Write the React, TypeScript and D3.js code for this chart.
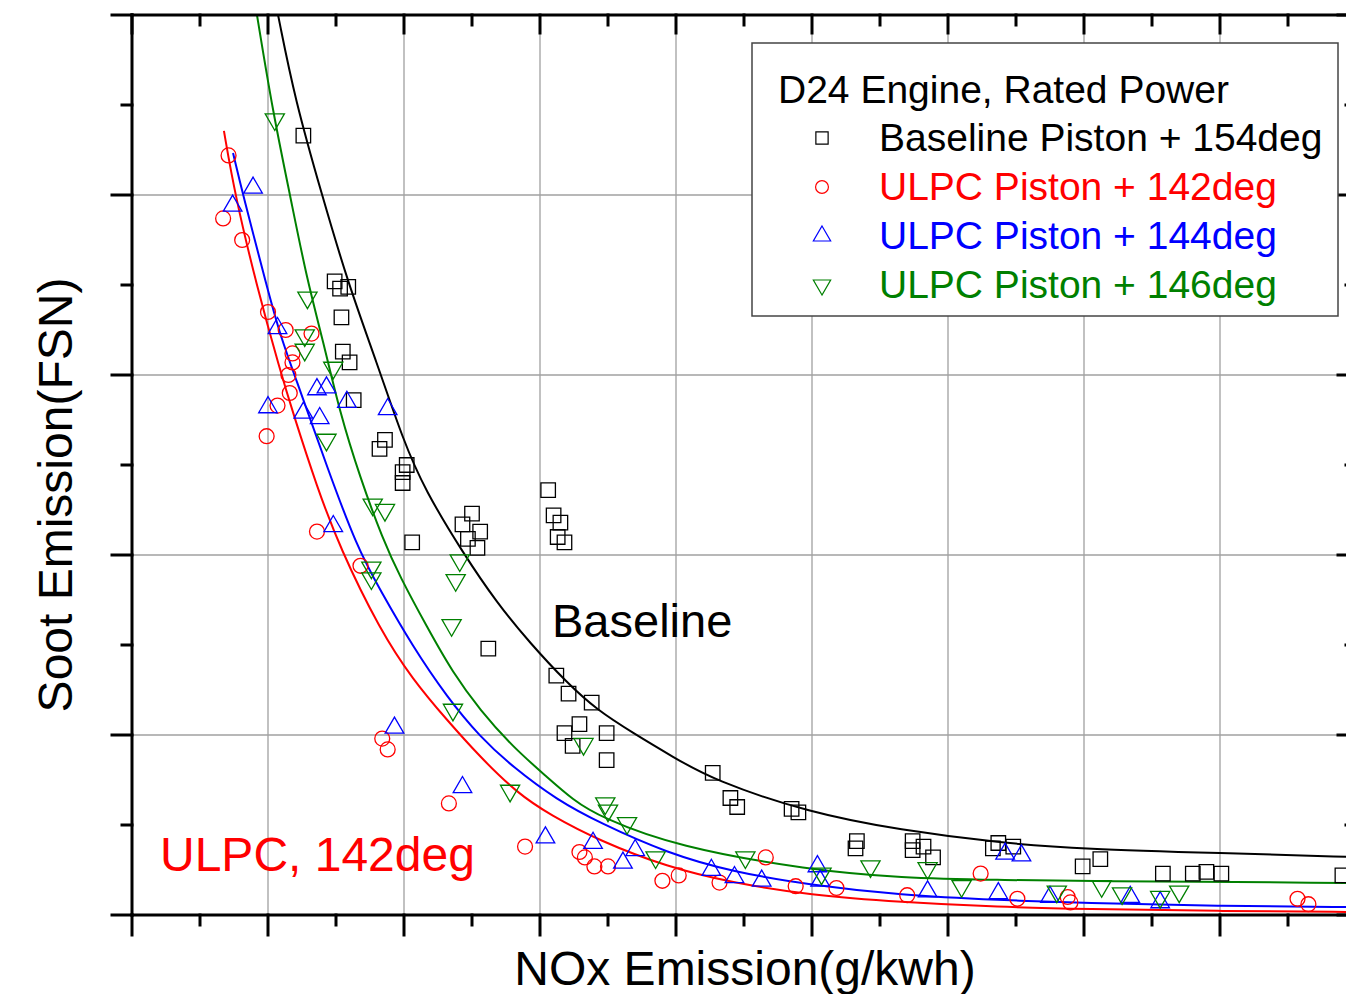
import React from 'react'
import * as d3 from 'd3'

const width = 1346
const height = 994
const plot = { left: 132, top: 15, right: 1356, bottom: 915 }

// NOx (g/kWh) vs soot (FSN)
const baselinePts: [number, number][] = [
  [1.26, 4.33], [1.49, 3.52], [1.53, 3.48], [1.59, 3.49], [1.54, 3.32], [1.55, 3.13],
  [1.6, 3.07], [1.63, 2.86], [1.86, 2.64], [1.82, 2.59], [2.02, 2.5], [1.99, 2.46],
  [1.99, 2.4], [2.06, 2.07], [2.5, 2.23], [2.43, 2.17], [2.56, 2.13], [2.47, 2.09],
  [2.54, 2.04], [3.06, 2.36], [3.1, 2.22], [3.15, 2.18], [3.13, 2.1], [3.18, 2.07],
  [2.62, 1.48], [3.12, 1.33], [3.21, 1.23], [3.38, 1.18], [3.29, 1.06], [3.18, 1.01],
  [3.24, 0.94], [3.49, 1.01], [3.49, 0.86], [4.27, 0.79], [4.4, 0.65], [4.45, 0.6],
  [4.85, 0.59], [4.9, 0.57], [5.33, 0.41], [5.32, 0.37], [5.74, 0.41], [5.74, 0.36],
  [5.82, 0.38], [5.89, 0.32], [6.37, 0.4], [6.48, 0.38], [6.33, 0.37], [6.99, 0.27],
  [7.12, 0.31], [7.58, 0.23], [7.8, 0.23], [7.9, 0.24], [8.01, 0.23], [8.9, 0.22],
]
const ulpc142Pts: [number, number][] = [
  [0.71, 4.22], [0.67, 3.87], [0.81, 3.75], [1.0, 3.35], [1.13, 3.25], [1.32, 3.23],
  [1.18, 3.12], [1.18, 3.07], [1.15, 3.0], [1.16, 2.9], [1.07, 2.83], [0.99, 2.66],
  [1.36, 2.13], [1.68, 1.94], [1.84, 0.98], [1.88, 0.92], [2.33, 0.62], [2.89, 0.38],
  [3.29, 0.35], [3.33, 0.32], [3.4, 0.27], [3.5, 0.27], [3.9, 0.19], [4.02, 0.22],
  [4.32, 0.18], [4.66, 0.32], [4.88, 0.16], [5.18, 0.15], [5.7, 0.11], [6.24, 0.23],
  [6.51, 0.09], [6.88, 0.1], [6.9, 0.07], [8.57, 0.09], [8.65, 0.06],
]
const ulpc144Pts: [number, number][] = [
  [0.89, 4.04], [0.74, 3.94], [1.07, 3.26], [1.0, 2.82], [1.26, 2.79], [1.38, 2.76],
  [1.36, 2.92], [1.43, 2.93], [1.58, 2.85], [1.88, 2.81], [1.48, 2.16], [1.93, 1.04],
  [2.43, 0.71], [3.04, 0.43], [3.39, 0.4], [3.61, 0.29], [3.7, 0.36], [4.26, 0.25],
  [4.43, 0.21], [4.63, 0.19], [5.04, 0.27], [5.06, 0.19], [5.85, 0.13], [6.37, 0.12],
  [6.42, 0.34], [6.54, 0.33], [6.75, 0.1], [7.34, 0.1], [7.56, 0.07],
]
const ulpc146Pts: [number, number][] = [
  [1.05, 4.42], [1.29, 3.43], [1.27, 3.22], [1.27, 3.14], [1.48, 3.04], [1.43, 2.64],
  [1.77, 2.28], [1.86, 2.25], [1.76, 1.93], [1.76, 1.87], [2.41, 1.97], [2.38, 1.86],
  [2.35, 1.61], [2.36, 1.14], [2.78, 0.69], [3.32, 0.95], [3.48, 0.62], [3.5, 0.58],
  [3.64, 0.51], [3.85, 0.32], [4.51, 0.32], [5.07, 0.23], [5.43, 0.27], [5.85, 0.26],
  [6.1, 0.16], [6.8, 0.13], [7.13, 0.16], [7.28, 0.12], [7.56, 0.1], [7.7, 0.13],
]

// fitted trend curves
const baselineFit: [number, number][] = [
  [1.074, 5.0], [1.199, 4.528], [1.397, 4.0], [1.588, 3.511], [1.801, 3.067], [1.993, 2.639],
  [2.154, 2.361], [2.434, 2.011], [2.684, 1.733], [2.926, 1.511], [3.199, 1.289], [3.419, 1.139],
  [3.684, 1.011], [3.978, 0.878], [4.272, 0.75], [4.985, 0.567], [5.647, 0.472], [6.382, 0.4],
  [6.993, 0.367], [8.0, 0.344], [9.0, 0.322],
]
const ulpc142Fit: [number, number][] = [
  [0.676, 4.356], [0.757, 4.0], [0.919, 3.489], [1.088, 3.028], [1.184, 2.789], [1.36, 2.378],
  [1.529, 2.039], [1.824, 1.583], [2.066, 1.306], [2.316, 1.083], [2.559, 0.878], [2.831, 0.678],
  [3.074, 0.556], [3.441, 0.411], [3.934, 0.267], [4.419, 0.178], [4.985, 0.111], [5.647, 0.072],
  [6.382, 0.044], [6.993, 0.033], [7.978, 0.022], [9.0, 0.017],
]
const ulpc144Fit: [number, number][] = [
  [0.743, 4.233], [0.816, 4.0], [0.993, 3.489], [1.088, 3.222], [1.235, 2.917], [1.434, 2.489],
  [1.654, 2.044], [1.824, 1.806], [2.066, 1.489], [2.316, 1.211], [2.559, 0.989], [2.801, 0.822],
  [3.125, 0.639], [3.441, 0.511], [3.934, 0.344], [4.419, 0.239], [4.985, 0.167], [5.647, 0.111],
  [6.382, 0.083], [6.993, 0.067], [7.978, 0.05], [9.0, 0.044],
]
const ulpc146Fit: [number, number][] = [
  [0.919, 5.0], [1.037, 4.456], [1.162, 4.0], [1.287, 3.528], [1.404, 3.194], [1.529, 2.789],
  [1.676, 2.433], [1.846, 2.083], [1.971, 1.878], [2.169, 1.6], [2.36, 1.344], [2.559, 1.139],
  [2.801, 0.933], [3.051, 0.767], [3.243, 0.639], [3.441, 0.544], [4.007, 0.378], [4.985, 0.25],
  [5.647, 0.206], [6.382, 0.194], [6.993, 0.189], [9.0, 0.178],
]

const legendTitle = 'D24 Engine, Rated Power'
const seriesNames = [
  'Baseline Piston + 154deg',
  'ULPC Piston + 142deg',
  'ULPC Piston + 144deg',
  'ULPC Piston + 146deg',
]
const seriesColors = ['#000000', '#ff0000', '#0000ff', '#008000']

const xMajor = d3.range(0, 10)
const xMinor = d3.range(0.5, 9, 1)
const yMajor = d3.range(0, 6)
const yMinor = d3.range(0.5, 5, 1)

const font = '"Liberation Sans", Arial, sans-serif'

const xScale = d3.scaleLinear().domain([0, 9]).range([plot.left, plot.right])
const yScale = d3.scaleLinear().domain([0, 5]).range([plot.bottom, plot.top])

const line = d3
  .line<[number, number]>()
  .x((d) => xScale(d[0]))
  .y((d) => yScale(d[1]))
  .curve(d3.curveBasis)

const markerPaths = [
  { path: d3.symbol().type(d3.symbolSquare).size(210)()!, rot: 0 },
  { path: d3.symbol().type(d3.symbolCircle).size(175)()!, rot: 0 },
  { path: d3.symbol().type(d3.symbolTriangle).size(150)()!, rot: 0 },
  { path: d3.symbol().type(d3.symbolTriangle).size(160)()!, rot: 180 },
]
const legendMarkers = [
  { path: d3.symbol().type(d3.symbolSquare).size(150)()!, rot: 0 },
  { path: d3.symbol().type(d3.symbolCircle).size(130)()!, rot: 0 },
  { path: d3.symbol().type(d3.symbolTriangle).size(130)()!, rot: 0 },
  { path: d3.symbol().type(d3.symbolTriangle).size(130)()!, rot: 180 },
]

const allPoints = [baselinePts, ulpc142Pts, ulpc144Pts, ulpc146Pts]
const allFits = [baselineFit, ulpc142Fit, ulpc144Fit, ulpc146Fit]

function App() {
  const grid = (
    <g stroke="#a0a0a0" strokeWidth={1.3}>
      {xMajor.slice(1, -1).map((v) => (
        <line key={'gx' + v} x1={xScale(v)} x2={xScale(v)} y1={plot.top} y2={plot.bottom} />
      ))}
      {yMajor.slice(1, -1).map((v) => (
        <line key={'gy' + v} y1={yScale(v)} y2={yScale(v)} x1={plot.left} x2={plot.right} />
      ))}
    </g>
  )

  const curves = allFits.map((fit, i) => (
    <path key={'fit' + i} d={line(fit) || ''} fill="none" stroke={seriesColors[i]} strokeWidth={2} />
  ))

  const markers = allPoints.map((pts, i) => (
    <g key={'pts' + i} fill="none" stroke={seriesColors[i]} strokeWidth={1.3}>
      {pts.map((d, j) => (
        <path
          key={j}
          d={markerPaths[i].path}
          transform={`translate(${xScale(d[0])},${yScale(d[1])}) rotate(${markerPaths[i].rot})`}
        />
      ))}
    </g>
  ))

  const axes = (
    <g stroke="#000" strokeWidth={3} strokeLinecap="square">
      <line x1={plot.left} x2={plot.right} y1={plot.bottom} y2={plot.bottom} />
      <line x1={plot.left} x2={plot.right} y1={plot.top} y2={plot.top} />
      <line x1={plot.left} x2={plot.left} y1={plot.top} y2={plot.bottom} />
      <line x1={plot.right} x2={plot.right} y1={plot.top} y2={plot.bottom} />
      {xMajor.map((v) => (
        <g key={'xt' + v}>
          <line x1={xScale(v)} x2={xScale(v)} y1={plot.bottom} y2={plot.bottom + 20} />
          <line x1={xScale(v)} x2={xScale(v)} y1={plot.top} y2={plot.top + 18} />
        </g>
      ))}
      {xMinor.map((v) => (
        <g key={'xm' + v}>
          <line x1={xScale(v)} x2={xScale(v)} y1={plot.bottom} y2={plot.bottom + 10} />
          <line x1={xScale(v)} x2={xScale(v)} y1={plot.top} y2={plot.top + 10} />
        </g>
      ))}
      {yMajor.map((v) => (
        <g key={'yt' + v}>
          <line y1={yScale(v)} y2={yScale(v)} x1={plot.left - 20} x2={plot.left} />
          <line y1={yScale(v)} y2={yScale(v)} x1={plot.right - 18} x2={plot.right} />
        </g>
      ))}
      {yMinor.map((v) => (
        <g key={'ym' + v}>
          <line y1={yScale(v)} y2={yScale(v)} x1={plot.left - 10} x2={plot.left} />
          <line y1={yScale(v)} y2={yScale(v)} x1={plot.right - 10} x2={plot.right} />
        </g>
      ))}
    </g>
  )

  const legend = (
    <g fontFamily={font} fontSize={39}>
      <rect x={752} y={43} width={586} height={273} fill="#fff" stroke="#444" strokeWidth={1.5} />
      <text x={778} y={103} fill="#000">{legendTitle}</text>
      {seriesNames.map((name, i) => (
        <g key={name}>
          <path
            d={legendMarkers[i].path}
            transform={`translate(822,${138 + i * 49}) rotate(${legendMarkers[i].rot})`}
            fill="none"
            stroke={seriesColors[i]}
            strokeWidth={1.2}
          />
          <text x={879} y={151 + i * 49} fill={seriesColors[i]}>{name}</text>
        </g>
      ))}
    </g>
  )

  return (
    <svg
      width={width}
      height={height}
      style={{ position: 'absolute', left: 0, top: 0, background: '#fff' }}
    >
      <defs>
        <clipPath id="plotClip">
          <rect x={plot.left} y={plot.top} width={plot.right - plot.left} height={plot.bottom - plot.top} />
        </clipPath>
      </defs>
      {grid}
      <g clipPath="url(#plotClip)">
        {curves}
        {markers}
      </g>
      {axes}
      {legend}
      <text x={552} y={637} fontFamily={font} fontSize={47} fill="#000">Baseline</text>
      <text x={160} y={871} fontFamily={font} fontSize={48} fill="#ff0000">ULPC, 142deg</text>
      <text x={745} y={985} textAnchor="middle" fontFamily={font} fontSize={48} fill="#000">
        NOx Emission(g/kwh)
      </text>
      <text
        transform="translate(72,495) rotate(-90)"
        textAnchor="middle"
        fontFamily={font}
        fontSize={48}
        fill="#000"
      >
        Soot Emission(FSN)
      </text>
    </svg>
  )
}

export default App
